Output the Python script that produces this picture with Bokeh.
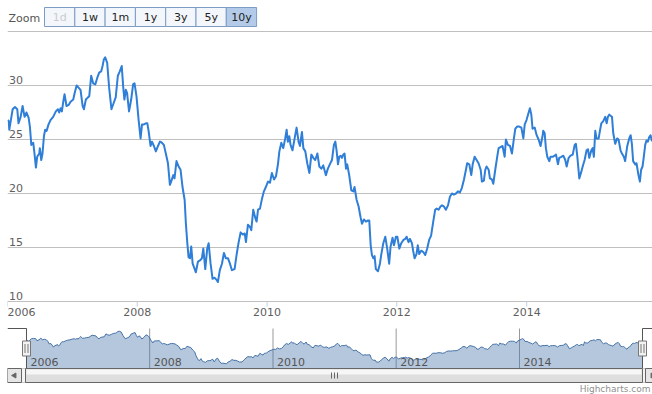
import numpy as np
import pandas as pd
from bokeh.plotting import figure
from bokeh.models import Range1d, Grid, FixedTicker, ColumnDataSource
from bokeh.core.properties import value
from bokeh.embed import file_html
from bokeh.resources import INLINE

# ---------------- data ----------------
DATES = [
    "2006-01-02", "2006-01-08", "2006-01-11", "2006-01-19", "2006-01-30", "2006-02-12", "2006-02-25",
    "2006-03-04", "2006-03-16", "2006-03-27", "2006-04-07", "2006-04-18", "2006-04-30", "2006-05-07",
    "2006-05-15", "2006-05-26", "2006-06-02", "2006-06-10", "2006-06-17", "2006-06-29", "2006-07-02",
    "2006-07-10", "2006-07-17", "2006-07-25", "2006-08-01", "2006-08-09", "2006-08-20", "2006-08-31",
    "2006-09-15", "2006-09-30", "2006-10-12", "2006-10-19", "2006-10-27", "2006-11-03", "2006-11-11",
    "2006-11-18", "2006-11-29", "2006-12-11", "2006-12-22",
    "2007-01-06", "2007-01-14", "2007-01-25", "2007-02-05", "2007-02-16", "2007-02-28", "2007-03-07",
    "2007-03-18", "2007-03-30", "2007-04-06", "2007-04-17", "2007-04-28", "2007-05-10", "2007-05-21",
    "2007-06-01", "2007-06-12", "2007-06-20", "2007-06-27", "2007-07-05", "2007-07-16", "2007-07-27",
    "2007-08-09", "2007-08-22", "2007-09-02", "2007-09-14", "2007-09-25", "2007-10-06", "2007-10-14",
    "2007-10-21", "2007-10-29", "2007-11-05", "2007-11-16", "2007-11-28", "2007-12-09", "2007-12-17",
    "2007-12-28",
    "2008-01-09", "2008-01-20", "2008-01-28", "2008-02-08", "2008-02-19", "2008-02-27", "2008-03-05",
    "2008-03-16", "2008-03-24", "2008-04-04", "2008-04-15", "2008-04-27", "2008-05-08", "2008-05-19",
    "2008-05-30", "2008-06-10", "2008-06-22", "2008-07-03", "2008-07-10", "2008-07-22", "2008-07-29",
    "2008-08-09", "2008-08-21", "2008-09-01", "2008-09-12", "2008-09-24", "2008-10-01", "2008-10-09",
    "2008-10-16", "2008-10-24", "2008-10-31", "2008-11-08", "2008-11-15", "2008-11-26", "2008-12-08",
    "2008-12-19", "2008-12-30",
    "2009-01-07", "2009-01-18", "2009-01-29", "2009-02-06", "2009-02-17", "2009-02-28", "2009-03-11",
    "2009-03-23", "2009-03-30", "2009-04-10", "2009-04-22", "2009-05-03", "2009-05-14", "2009-05-26",
    "2009-06-06", "2009-06-17", "2009-07-02", "2009-07-14", "2009-07-25", "2009-08-05", "2009-08-17",
    "2009-08-28", "2009-09-04", "2009-09-15", "2009-09-27", "2009-10-04", "2009-10-15", "2009-10-27",
    "2009-11-03", "2009-11-11", "2009-11-22", "2009-12-03", "2009-12-14", "2009-12-25",
    "2010-01-06", "2010-01-17", "2010-01-28", "2010-02-09", "2010-02-20", "2010-03-03", "2010-03-11",
    "2010-03-22", "2010-04-02", "2010-04-13", "2010-04-21", "2010-04-28", "2010-05-06", "2010-05-13",
    "2010-05-24", "2010-06-05", "2010-06-16", "2010-06-27", "2010-07-05", "2010-07-16", "2010-07-24",
    "2010-08-04", "2010-08-15", "2010-08-27", "2010-09-07", "2010-09-18", "2010-09-29", "2010-10-11",
    "2010-10-22", "2010-11-02", "2010-11-13", "2010-11-28", "2010-12-09", "2010-12-20",
    "2011-01-01", "2011-01-12", "2011-01-20", "2011-01-27", "2011-02-04", "2011-02-11", "2011-02-19",
    "2011-02-26", "2011-03-06", "2011-03-13", "2011-03-21", "2011-03-28", "2011-04-08", "2011-04-20",
    "2011-05-01", "2011-05-08", "2011-05-20", "2011-05-31", "2011-06-11", "2011-06-19", "2011-06-30",
    "2011-07-11", "2011-07-23", "2011-07-30", "2011-08-07", "2011-08-14", "2011-08-22", "2011-08-29",
    "2011-09-05", "2011-09-17", "2011-09-28", "2011-10-05", "2011-10-17", "2011-10-28", "2011-11-08",
    "2011-11-19", "2011-11-27", "2011-12-08", "2011-12-16", "2011-12-27",
    "2012-01-04", "2012-01-15", "2012-01-26", "2012-02-07", "2012-02-18", "2012-02-25", "2012-03-07",
    "2012-03-15", "2012-03-26", "2012-04-02", "2012-04-10", "2012-04-21", "2012-04-28", "2012-05-06",
    "2012-05-17", "2012-05-28", "2012-06-09", "2012-06-20", "2012-07-01", "2012-07-12", "2012-07-24",
    "2012-08-04", "2012-08-12", "2012-08-23", "2012-09-03", "2012-09-11", "2012-09-22", "2012-10-03",
    "2012-10-15", "2012-10-26", "2012-11-06", "2012-11-17", "2012-11-29", "2012-12-10", "2012-12-21",
    "2013-01-01", "2013-01-13", "2013-01-24", "2013-01-31", "2013-02-12", "2013-02-23", "2013-03-03",
    "2013-03-14", "2013-03-25", "2013-04-05", "2013-04-17", "2013-04-24", "2013-05-05", "2013-05-13",
    "2013-05-20", "2013-06-01", "2013-06-08", "2013-06-19", "2013-06-27", "2013-07-08", "2013-07-19",
    "2013-07-27", "2013-08-07", "2013-08-18", "2013-08-30", "2013-09-06", "2013-09-17", "2013-09-29",
    "2013-10-10", "2013-10-21", "2013-10-29", "2013-11-09", "2013-11-20", "2013-12-02", "2013-12-13",
    "2013-12-21", "2013-12-31",
    "2014-01-12", "2014-01-19", "2014-01-27", "2014-02-03", "2014-02-15", "2014-02-26", "2014-03-09",
    "2014-03-20", "2014-03-31", "2014-04-04", "2014-04-12", "2014-04-19", "2014-04-27", "2014-05-08",
    "2014-05-15", "2014-05-27", "2014-06-07", "2014-06-15", "2014-06-26", "2014-07-03", "2014-07-15",
    "2014-07-26", "2014-08-06", "2014-08-14", "2014-08-25", "2014-09-05", "2014-09-17", "2014-09-28",
    "2014-10-05", "2014-10-13", "2014-10-24", "2014-11-04", "2014-11-12", "2014-11-23", "2014-12-04",
    "2014-12-12", "2014-12-19", "2014-12-31",
    "2015-01-07", "2015-01-14", "2015-01-22", "2015-01-29", "2015-02-10", "2015-02-17", "2015-02-25",
    "2015-03-08", "2015-03-19", "2015-03-27", "2015-04-03", "2015-04-11", "2015-04-18", "2015-04-26",
    "2015-05-03", "2015-05-14", "2015-05-25", "2015-06-02", "2015-06-13", "2015-06-21", "2015-07-02",
    "2015-07-09", "2015-07-21", "2015-08-01", "2015-08-09", "2015-08-16", "2015-08-23", "2015-09-04",
    "2015-09-11", "2015-09-22", "2015-09-30", "2015-10-07", "2015-10-15", "2015-10-22", "2015-10-30",
    "2015-11-06", "2015-11-14", "2015-11-21", "2015-11-29", "2015-12-06", "2015-12-15", "2015-12-28",
]
PRICES = [
    26.8, 26.7, 25.9, 26.7, 27.8, 28.0, 27.8, 26.5, 27.1, 28.1, 27.1, 27.5, 27.0, 26.2,
    24.5, 24.7, 23.7, 22.4, 23.4, 23.7, 24.2, 23.1, 23.7, 25.3, 25.9, 25.8, 26.4, 26.8,
    27.1, 27.6, 27.8, 27.5, 27.9, 27.6, 28.5, 29.2, 28.1, 28.2, 28.5,
    28.7, 29.3, 30.0, 29.8, 29.6, 28.1, 27.8, 28.7, 28.9, 29.0, 30.9, 30.2, 30.1, 30.7,
    31.2, 31.3, 31.8, 32.4, 32.6, 32.1, 29.8, 27.8, 28.4, 28.9, 30.9, 31.3, 31.8, 29.9,
    28.7, 29.6, 29.3, 27.6, 28.7, 30.1, 30.2, 29.0,
    26.8, 25.1, 26.4, 26.4, 26.5, 26.5, 25.8, 24.4, 24.8, 24.4, 23.9, 24.4, 24.8, 24.7,
    24.5, 23.7, 22.8, 20.8, 21.1, 21.7, 21.4, 23.0, 22.5, 22.2, 20.6, 19.4, 17.2, 15.4,
    14.1, 14.0, 15.1, 13.5, 13.2, 12.7, 13.7, 13.8, 14.0,
    14.9, 13.0, 14.9, 15.4, 13.5, 12.1, 12.2, 12.0, 11.8, 12.9, 13.5, 14.5, 14.0, 14.0,
    13.5, 12.9, 13.0, 14.4, 15.5, 16.4, 16.2, 16.3, 15.5, 17.1, 16.9, 16.6, 18.5, 17.7,
    17.4, 18.5, 18.6, 19.5, 20.2, 20.6,
    21.1, 21.0, 21.9, 21.3, 21.6, 22.7, 23.9, 24.7, 24.2, 25.1, 25.9, 24.8, 25.3, 24.5,
    24.0, 25.1, 26.1, 24.8, 24.4, 25.7, 24.2, 23.9, 22.8, 21.9, 23.6, 23.3, 23.1, 23.7,
    22.5, 22.3, 22.6, 21.7, 22.3, 22.7,
    23.1, 24.5, 24.8, 24.0, 22.7, 23.4, 23.5, 23.3, 23.6, 23.7, 22.3, 22.7, 21.7, 20.3,
    20.2, 20.6, 19.4, 18.8, 17.8, 17.2, 17.6, 17.4, 17.5, 17.5, 15.2, 14.3, 14.0, 14.2,
    13.0, 12.8, 13.5, 14.3, 15.4, 16.0, 14.9, 13.5, 15.1, 15.9, 15.2, 16.0,
    16.0, 14.9, 15.4, 15.7, 15.8, 16.0, 15.5, 15.8, 15.4, 14.7, 14.0, 14.4, 15.2, 14.4,
    14.7, 14.6, 14.3, 14.9, 15.7, 16.1, 17.4, 18.5, 18.6, 18.5, 18.8, 18.9, 18.8, 18.5,
    18.9, 19.7, 20.0, 19.9, 20.0, 20.2, 20.1,
    20.5, 21.3, 22.2, 22.8, 22.7, 21.7, 22.7, 23.4, 23.1, 22.8, 22.2, 21.1, 21.2, 22.2,
    22.5, 22.2, 21.4, 21.3, 20.9, 22.2, 23.4, 24.2, 24.3, 24.4, 23.4, 25.0, 24.5, 24.4,
    23.7, 25.1, 26.0, 26.2, 26.2, 26.1, 25.1, 26.4, 26.8,
    27.5, 27.9, 27.3, 26.0, 26.1, 25.4, 25.0, 24.4, 25.3, 25.8, 25.6, 24.2, 23.4, 23.0,
    23.4, 23.4, 23.5, 23.6, 22.7, 23.3, 23.4, 23.5, 23.1, 22.5, 23.3, 23.5, 23.6, 24.5,
    24.6, 23.4, 21.4, 22.0, 22.5, 23.1, 24.0, 24.1, 23.3, 24.0,
    24.2, 23.4, 25.8, 25.1, 25.1, 25.8, 26.5, 26.7, 27.1, 26.5, 27.1, 27.3, 27.2, 27.1,
    25.6, 24.6, 25.1, 25.0, 24.0, 23.7, 23.4, 23.0, 24.4, 25.1, 25.4, 24.6, 23.0, 22.7,
    22.8, 21.7, 21.1, 22.2, 22.5, 23.4, 24.5, 24.9, 24.8, 25.2, 25.4, 24.9, 25.1, 25.6,
]
TICK_DATES = ["2006-01-01", "2008-01-01", "2010-01-01", "2012-01-01", "2014-01-01"]
TICK_LABELS = ["2006", "2008", "2010", "2012", "2014"]
Y_TICKS = [10, 15, 20, 25, 30, 35]
Y_LABELS = ["10", "15", "20", "25", "30"]
BUTTONS = ["1d", "1w", "1m", "1y", "3y", "5y", "10y"]
SELECTED = "10y"
DISABLED = ["1d"]
VIEW_START = "2006-01-01"
VIEW_END = "2015-12-10"
NAV_END = "2015-12-31"

# ---------------- layout / style (page pixels) ----------------
W, H = 652, 394
LEFT = 7
FONT = value("DejaVu Sans")
LINE_COLOR = "#2f7ed8"


def ms(d):
    return pd.Timestamp(d).value / 1e6


t = np.array([ms(d) for d in DATES])
v = np.array(PRICES, dtype=float)
ticks_ms = np.array([ms(d) for d in TICK_DATES])

# main scale: 35 at y=31, 10 at y=301
PLOT_TOP, PLOT_BOT = 31, 301
s = (PLOT_BOT - PLOT_TOP) / (Y_TICKS[-1] - Y_TICKS[0])
y_end = Y_TICKS[-1] + PLOT_TOP / s
y_start = Y_TICKS[0] - (H - PLOT_BOT) / s

# navigator scale
NAV_L, NAV_R, NAV_T, NAV_B = 26, 642, 328, 368
n0, n1 = ms(VIEW_START), ms(NAV_END)
dpp = (n1 - n0) / (NAV_R - NAV_L)
nx_start = n0 - (NAV_L - LEFT) * dpp
nx_end = n0 + (W - NAV_L) * dpp
vmin, vmax = v.min(), v.max()
Y_MAXPX, Y_MINPX = 330.7, 363.3
ns = (Y_MINPX - Y_MAXPX) / (vmax - vmin)
ny_end = vmax + Y_MAXPX / ns
ny_start = vmin - (H - Y_MINPX) / ns
nav_top_val = vmax + (Y_MAXPX - NAV_T) / ns
nav_bot_val = vmin - (NAV_B - Y_MINPX) / ns

p = figure(width=W, height=H,
           x_range=Range1d(ms(VIEW_START), ms(VIEW_END)),
           y_range=Range1d(y_start, y_end),
           x_axis_location=None, y_axis_location=None,
           toolbar_location=None, output_backend="svg",
           min_border=0, min_border_left=LEFT, outline_line_color=None)
p.xgrid.visible = False
p.ygrid.visible = False
p.extra_x_ranges = {"nav": Range1d(nx_start, nx_end), "px": Range1d(LEFT, W)}
p.extra_y_ranges = {"nav": Range1d(ny_start, ny_end), "px": Range1d(H, 0)}
p.background_fill_color = "white"
p.border_fill_color = "white"

p.add_layout(Grid(dimension=1, ticker=FixedTicker(ticks=Y_TICKS),
                  grid_line_color="#C0C0C0", grid_line_width=1))

PX = dict(x_range_name="px", y_range_name="px")
NAV = dict(x_range_name="nav", y_range_name="nav")

# main x ticks and labels
p.segment(x0=ticks_ms, y0=[Y_TICKS[0]] * len(ticks_ms), x1=ticks_ms,
          y1=[Y_TICKS[0] - 5 / s] * len(ticks_ms), line_color="#C0D0E0", line_width=1)
p.text(x=ticks_ms[:1], y=[Y_TICKS[0]], text=TICK_LABELS[:1], text_align="left",
       text_baseline="alphabetic", y_offset=10, text_font=FONT, text_font_size="11px",
       text_color="#606060")
p.text(x=ticks_ms[1:], y=[Y_TICKS[0]] * (len(ticks_ms) - 1), text=TICK_LABELS[1:],
       text_align="center", text_baseline="alphabetic", y_offset=10, text_font=FONT,
       text_font_size="11px", text_color="#606060")

# y labels inside the plot
p.text(x=[ms(VIEW_START)] * len(Y_LABELS), y=[float(y) for y in Y_LABELS], text=Y_LABELS,
       text_align="left", text_baseline="alphabetic", x_offset=1.5, y_offset=-6,
       text_font=FONT, text_font_size="11px", text_color="#606060")

# main series
p.line(t, v, line_color=LINE_COLOR, line_width=2, line_join="round")

# ---------------- navigator ----------------
p.segment(x0=ticks_ms, y0=[nav_bot_val] * len(ticks_ms), x1=ticks_ms,
          y1=[nav_top_val] * len(ticks_ms), line_color="#999999", line_width=1, **NAV)
p.varea(x=t, y1=[nav_bot_val] * len(t), y2=v, fill_color="#4572A7", fill_alpha=0.4, **NAV)
p.line(t, v, line_color="#4572A7", line_width=1, **NAV)
p.text(x=ticks_ms, y=[nav_bot_val] * len(ticks_ms), text=TICK_LABELS, text_align="left",
       text_baseline="alphabetic", x_offset=4, y_offset=-6.5, text_font=FONT,
       text_font_size="11px", text_color="#555555", **NAV)

# outline
p.line([LEFT, NAV_L, NAV_L], [NAV_T, NAV_T, NAV_B], line_color="#555555", line_width=1, **PX)
p.line([NAV_R, NAV_R, W + 10], [NAV_B, NAV_T, NAV_T], line_color="#555555", line_width=1, **PX)

# ---------------- scrollbar ----------------
SB_T, SB_B = NAV_B, NAV_B + 14
p.quad(left=[LEFT], right=[W + 20], top=[SB_T], bottom=[SB_B],
       fill_color="#f4f4f4", line_color="#cccccc", **PX)
p.quad(left=[NAV_L - 1], right=[NAV_R], top=[SB_T], bottom=[SB_B],
       fill_color="#dedede", line_color="#666666", **PX)
p.quad(left=[NAV_L], right=[NAV_R - 1], top=[SB_T + 1], bottom=[SB_T + 6],
       fill_color="#f6f6f6", line_color=None, **PX)
mid = (NAV_L + NAV_R) / 2
p.segment(x0=[mid - 3, mid, mid + 3], y0=[SB_T + 4] * 3,
          x1=[mid - 3, mid, mid + 3], y1=[SB_B - 4] * 3,
          line_color="#666666", line_width=1, **PX)
for bl in (LEFT, NAV_R + 3):
    p.quad(left=[bl], right=[bl + 14], top=[SB_T], bottom=[SB_B],
           fill_color="#e6e6e6", line_color="#666666", **PX)
p.scatter(x=[LEFT + 7], y=[SB_T + 7], marker="triangle", angle=np.pi / 2, size=5,
          fill_color="#666666", line_color="#666666", **PX)
p.scatter(x=[NAV_R + 10], y=[SB_T + 7], marker="triangle", angle=-np.pi / 2, size=5,
          fill_color="#666666", line_color="#666666", **PX)

# handles
HT, HB = (NAV_T + NAV_B) / 2 - 7.5, (NAV_T + NAV_B) / 2 + 7.5
for hx in (NAV_L, NAV_R):
    p.quad(left=[hx - 4], right=[hx + 4], top=[HT], bottom=[HB],
           fill_color="#f2f2f2", line_color="#777777", **PX)
    p.segment(x0=[hx - 1.5, hx + 1.5], y0=[HT + 3] * 2,
              x1=[hx - 1.5, hx + 1.5], y1=[HB - 3] * 2,
              line_color="#777777", line_width=1, **PX)

# ---------------- range selector ----------------
p.text(x=[8], y=[17.5], text=["Zoom"], text_align="left", text_baseline="alphabetic",
       text_font=FONT, text_font_size="11px", text_color="#555555", **PX)
BW = 30.3
lefts = [44 + BW * i for i in range(len(BUTTONS))]
btn = ColumnDataSource(dict(
    left=lefts,
    right=[l + BW for l in lefts],
    cx=[l + BW / 2 for l in lefts],
    top=[7] * len(BUTTONS),
    bottom=[26] * len(BUTTONS),
    ty=[17] * len(BUTTONS),
    label=BUTTONS,
    fill=["#b3cbe8" if b == SELECTED else "#f3f6fa" for b in BUTTONS],
    tcol=["#cccccc" if b in DISABLED else "#222222" for b in BUTTONS],
))
p.quad(left="left", right="right", top="top", bottom="bottom", fill_color="fill",
       line_color="#7d9cc4", line_width=1, source=btn, **PX)
p.text(x="cx", y="ty", text="label", text_color="tcol", text_align="center",
       text_baseline="alphabetic", text_font=FONT, text_font_size="11px", source=btn, **PX)

# credits
p.text(x=[650], y=[388.5], text=["Highcharts.com"], text_align="right",
       text_baseline="alphabetic", text_font=FONT, text_font_size="9px", text_color="#909090",
       **PX)

open("out.html", "w").write(file_html(p, INLINE))
